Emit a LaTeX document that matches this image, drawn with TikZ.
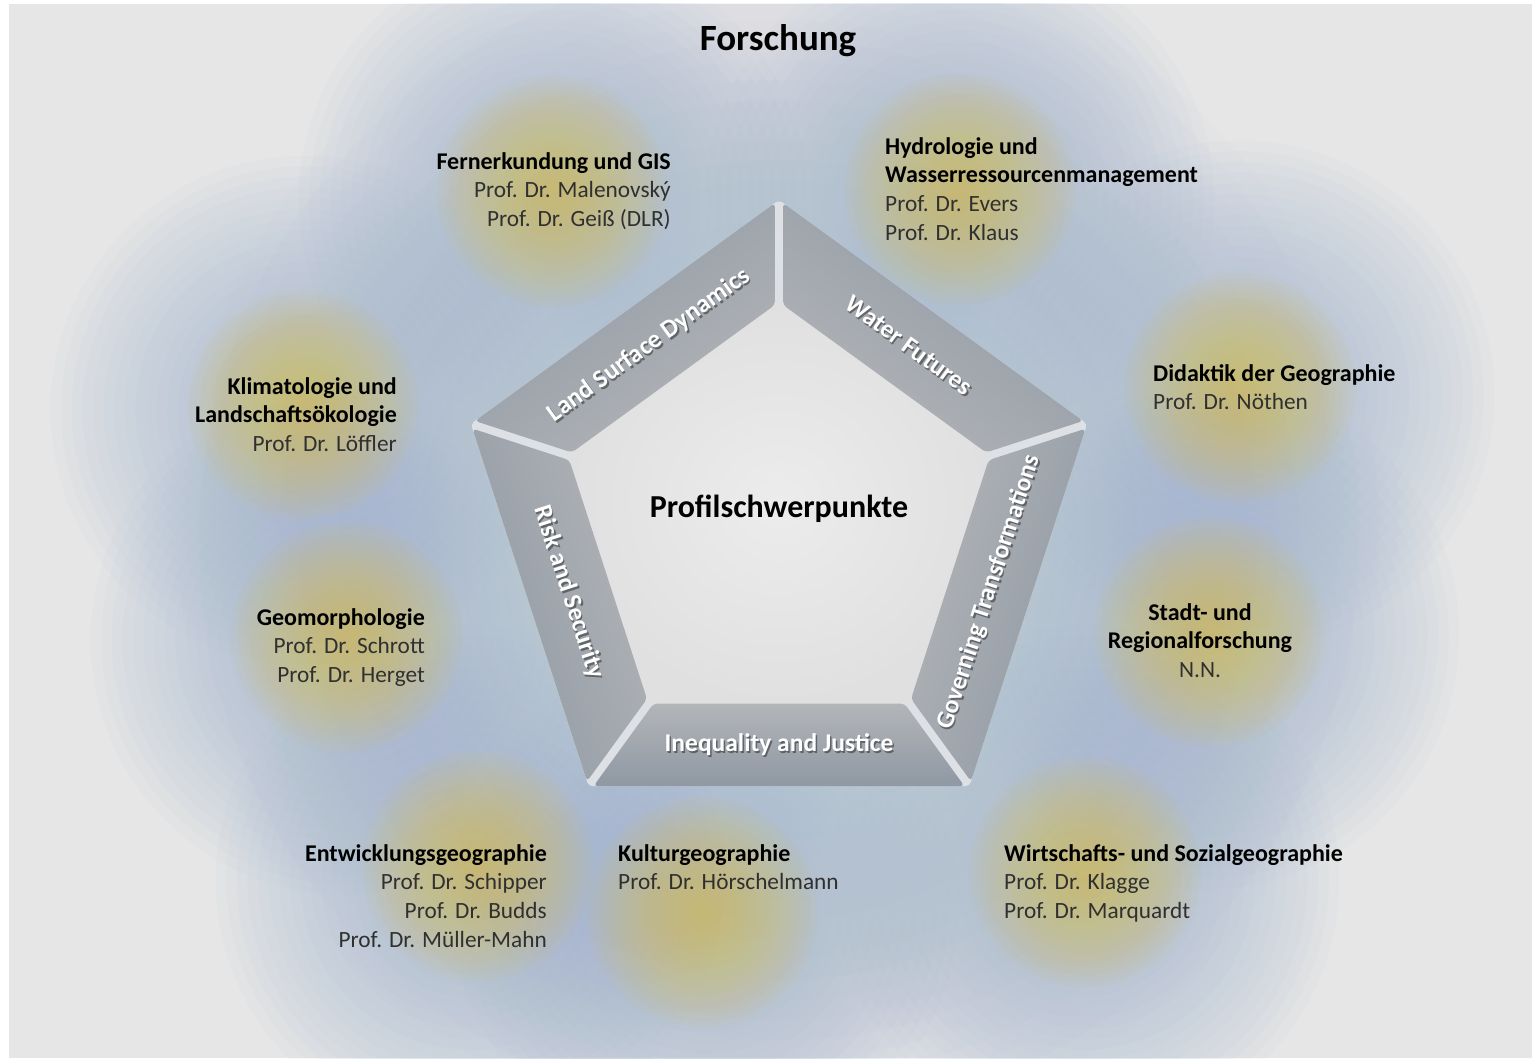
\documentclass[tikz,border=0pt]{standalone}
\usepackage{fontspec}
\setmainfont{Carlito}
\usetikzlibrary{calc}

\definecolor{bggray}{HTML}{E6E6E6}
\definecolor{haloblue}{HTML}{A3B7D0}
\definecolor{sunyellow}{HTML}{D8BE5C}
\definecolor{banddark}{HTML}{8F98A3}
\definecolor{bandlight}{HTML}{B3B5B8}
\definecolor{gapgray}{HTML}{DDE1E6}
\definecolor{corelight}{HTML}{ECECEC}
\definecolor{coredark}{HTML}{E0E0E0}
\definecolor{namegray}{HTML}{303030}

\tikzset{
  halo/.style={fill=haloblue, opacity=.05},
  sun/.style={fill=sunyellow, opacity=.07},
  band/.style={rounded corners=4pt, top color=bandlight, bottom color=banddark},
  bandlabel/.style={text=white, font=\fontsize{25.5}{30}\selectfont\bfseries, inner sep=0},
  bandshadow/.style={bandlabel, text=black, opacity=.4},
  unit/.style={inner sep=0, font=\fontsize{23.3}{28.8}\selectfont, text=namegray},
}

\newcommand{\head}[1]{\textcolor{black}{\fontsize{24}{28.8}\selectfont\bfseries #1}}

\begin{document}
\begin{tikzpicture}[x=1pt, y=-1pt]
    \useasboundingbox (0,0) rectangle (1532,1059);
    \fill[white] (0,0) rectangle (1532,1059);

    % background with soft glows (stacked discs)
    \begin{scope}
        \clip (9,4) rectangle (1532,1058);
        \fill[bggray] (9,4) rectangle (1532,1058);
        \foreach \s in {1,...,30}
            \fill[haloblue, opacity=.027] (779,540) circle ({20*\s});
        \foreach \x/\y in {553/200, 960/200, 1240/395, 1205/635, 1085/880,
                           705/905, 470/880, 345/640, 305/410}
            \foreach \s in {1,...,24}
                \fill[halo] (\x,\y) circle ({10.6*\s});
        \foreach \x/\y in {553/192, 960/190, 1240/388, 1210/632, 1085/872,
                           702/912, 478/866, 347/637, 303/405}
            \foreach \s in {1,...,18}
                \fill[sun] (\x,\y) circle ({6.4*\s});
    \end{scope}

    \node[font=\fontsize{37}{44}\selectfont\bfseries] (title) at (778,41) {Forschung};

    % pentagon
    \coordinate (c) at (779,524);
    \foreach \k in {0,...,4} {
        \coordinate (o\k) at ($(c)+({-90+72*\k}:324)$);
        \coordinate (i\k) at ($(c)+({-90+72*\k}:222)$);
        \coordinate (m\k) at ($(c)+({-54+72*\k}:221)$);
    }
    \fill[gapgray, rounded corners=4pt] (o0) -- (o1) -- (o2) -- (o3) -- (o4) -- cycle;
    \shade[inner color=corelight, outer color=coredark] (i0) -- (i1) -- (i2) -- (i3) -- (i4) -- cycle;
    \foreach \k/\n in {0/1, 1/2, 2/3, 3/4, 4/0} {
        \pgfmathsetmacro\ang{144-72*\k}
        \shade[band, shading angle=\ang] ($(o\k)!5pt!(o\n)$) -- ($(o\n)!5pt!(o\k)$)
            -- ($(i\n)!5pt!(i\k)$) -- ($(i\k)!5pt!(i\n)$) -- cycle;
    }
    \foreach \k/\txt/\rot in {0/Water Futures/-36, 1/Governing Transformations/72,
                              2/Inequality and Justice/0, 3/Risk and Security/-72,
                              4/Land Surface Dynamics/36} {
        \node[bandshadow, rotate=\rot] (lab\k-sh) at ($(m\k)+(1.5,2)$) {\txt};
        \node[bandlabel, rotate=\rot] (lab\k) at (m\k) {\txt};
    }
    \node[font=\fontsize{32}{38}\selectfont\bfseries] (core) at (779,509) {Profilschwerpunkte};

    % chairs
    \node[unit, anchor=north east, align=right] (fern) at (671,152)
        {\head{Fernerkundung und GIS}\\Prof. Dr. Malenovský\\Prof. Dr. Geiß (DLR)};
    \node[unit, anchor=north west, align=left] (hydro) at (885,137)
        {\head{Hydrologie und}\\\head{Wasserressourcenmanagement}\\Prof. Dr. Evers\\Prof. Dr. Klaus};
    \node[unit, anchor=north west, align=left] (didaktik) at (1153,364)
        {\head{Didaktik der Geographie}\\Prof. Dr. Nöthen};
    \node[unit, anchor=north, align=center] (stadt) at (1200,603)
        {\head{Stadt- und}\\\head{Regionalforschung}\\N.N.};
    \node[unit, anchor=north west, align=left] (wirtschaft) at (1004,844)
        {\head{Wirtschafts- und Sozialgeographie}\\Prof. Dr. Klagge\\Prof. Dr. Marquardt};
    \node[unit, anchor=north west, align=left] (kultur) at (618,844)
        {\head{Kulturgeographie}\\Prof. Dr. Hörschelmann};
    \node[unit, anchor=north east, align=right] (entwicklung) at (547,844)
        {\head{Entwicklungsgeographie}\\Prof. Dr. Schipper\\Prof. Dr. Budds\\Prof. Dr. Müller-Mahn};
    \node[unit, anchor=north east, align=right] (geomorph) at (425,608)
        {\head{Geomorphologie}\\Prof. Dr. Schrott\\Prof. Dr. Herget};
    \node[unit, anchor=north east, align=right] (klima) at (397,377)
        {\head{Klimatologie und}\\\head{Landschaftsökologie}\\Prof. Dr. Löffler};
\end{tikzpicture}
\end{document}
